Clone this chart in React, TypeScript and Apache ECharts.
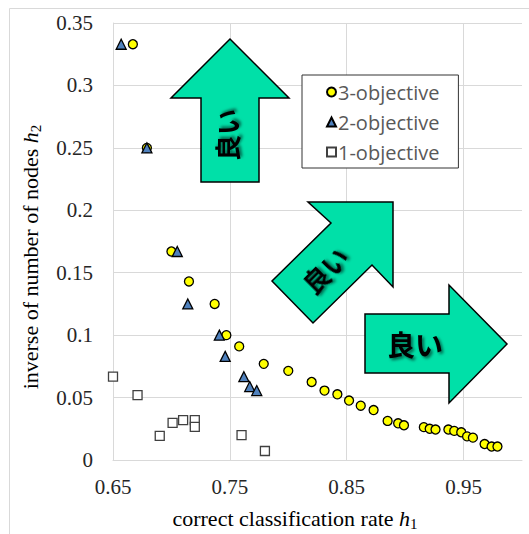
import React, { useEffect, useRef } from "react";
import * as echarts from "echarts";

// 3-objective (yellow circles)
const rate3 = [0.667, 0.679, 0.700, 0.715, 0.737, 0.747, 0.758, 0.779, 0.800, 0.820, 0.831, 0.842, 0.852, 0.862, 0.873, 0.885, 0.894, 0.899, 0.916, 0.921, 0.926, 0.937, 0.942, 0.948, 0.953, 0.958, 0.968, 0.974, 0.979];
const inv3 = [0.333, 0.250, 0.167, 0.143, 0.125, 0.100, 0.091, 0.077, 0.0714, 0.0625, 0.0556, 0.0526, 0.0476, 0.0435, 0.040, 0.0313, 0.0294, 0.0278, 0.0263, 0.025, 0.0244, 0.0244, 0.0233, 0.0222, 0.0189, 0.0179, 0.0128, 0.0108, 0.0108];

// 2-objective (blue triangles)
const rate2 = [0.657, 0.679, 0.705, 0.714, 0.741, 0.746, 0.762, 0.767, 0.773];
const inv2 = [0.333, 0.250, 0.167, 0.125, 0.100, 0.083, 0.0667, 0.0588, 0.0556];

// 1-objective (white squares)
const rate1 = [0.650, 0.671, 0.690, 0.701, 0.710, 0.720, 0.720, 0.760, 0.780];
const inv1 = [0.0667, 0.052, 0.0193, 0.0297, 0.032, 0.032, 0.0265, 0.020, 0.0072];

const seriesNames = ["3-objective", "2-objective", "1-objective"];
const xTickLabels = ["0.65", "0.75", "0.85", "0.95"];
const yTickLabels = ["0", "0.05", "0.1", "0.15", "0.2", "0.25", "0.3", "0.35"];
const arrowLabel = "良い";

const GRID = "#d9d9d9";
const ARROW = "#00E0A8";
const SERIF = "Liberation Serif";
const JP = "Noto Sans CJK JP";

const textShadow = {
  textShadowColor: "rgba(0,0,0,0.55)",
  textShadowBlur: 3,
  textShadowOffsetX: 2,
  textShadowOffsetY: 2,
};

export default function App() {
  const ref = useRef<HTMLDivElement>(null);

  useEffect(() => {
    if (!ref.current) return;
    const chart = echarts.init(ref.current, null, { renderer: "svg" });

    const pairs = (xs: number[], ys: number[]) => xs.map((x, i) => [x, ys[i]]);

    const option: any = {
      animation: false,
      backgroundColor: "#ffffff",
      grid: { left: 113, top: 23, right: 7, bottom: 74, containLabel: false },
      xAxis: {
        type: "value",
        min: 0.65,
        max: 1.0,
        interval: 0.05,
        axisLine: { show: true, onZero: false, lineStyle: { color: GRID, width: 1 } },
        axisTick: { show: false },
        axisLabel: {
          margin: 16,
          fontFamily: SERIF,
          fontSize: 21,
          color: "#262626",
          showMaxLabel: false,
          formatter: (v: number) => {
            const k = Math.round((v - 0.65) / 0.05);
            return k % 2 === 0 && k / 2 < xTickLabels.length ? xTickLabels[k / 2] : "";
          },
        },
        splitLine: { show: true, lineStyle: { color: [GRID, "rgba(0,0,0,0)"], width: 1 } },
      },
      yAxis: {
        type: "value",
        min: 0,
        max: 0.35,
        interval: 0.05,
        axisLine: { show: true, onZero: false, lineStyle: { color: GRID, width: 1 } },
        axisTick: { show: false },
        axisLabel: {
          margin: 20,
          fontFamily: SERIF,
          fontSize: 21,
          color: "#262626",
          formatter: (v: number) => yTickLabels[Math.round(v / 0.05)] ?? "",
        },
        splitLine: { show: true, lineStyle: { color: GRID, width: 1 } },
      },
      legend: {
        orient: "vertical",
        left: 302,
        top: 75,
        padding: [7, 19, 6, 24],
        itemWidth: 9,
        itemHeight: 9,
        itemGap: 10,
        backgroundColor: "#ffffff",
        borderColor: "#333",
        borderWidth: 1,
        textStyle: { fontFamily: "Open Sans", fontSize: 20, color: "#595959", padding: [0, 0, 0, -3] },
        data: seriesNames,
      },
      series: [
        {
          name: seriesNames[0],
          type: "scatter",
          clip: false,
          symbol: "circle",
          symbolSize: 9,
          itemStyle: { color: "#FFFF00", borderColor: "#000", borderWidth: 1.3, opacity: 1 },
          data: pairs(rate3, inv3),
          z: 3,
        },
        {
          name: seriesNames[1],
          type: "scatter",
          clip: false,
          symbol: "triangle",
          symbolSize: 10,
          itemStyle: { color: "#4F81BD", borderColor: "#000", borderWidth: 1.3, opacity: 1 },
          data: pairs(rate2, inv2),
          z: 4,
        },
        {
          name: seriesNames[2],
          type: "scatter",
          clip: false,
          symbol: "rect",
          symbolSize: 9,
          itemStyle: { color: "#ffffff", borderColor: "#404040", borderWidth: 1.3, opacity: 1 },
          data: pairs(rate1, inv1),
          z: 3,
        },
      ],
      graphic: [
        {
          type: "rect",
          shape: { x: 9.5, y: 8.5, width: 540, height: 540 },
          style: { fill: "none", stroke: GRID, lineWidth: 1 },
          z: 1,
          silent: true,
        },
        {
          type: "polygon",
          shape: { points: [[230, 39], [289, 98], [259, 98], [259, 182], [201, 182], [201, 98], [171, 98]] },
          style: { fill: ARROW, stroke: "#000", lineWidth: 1.5 },
          z: 10,
        },
        {
          type: "polygon",
          shape: { points: [[393, 202], [393, 287], [372, 265], [313, 323], [272, 281], [331, 223], [308, 202]] },
          style: { fill: ARROW, stroke: "#000", lineWidth: 1.5 },
          z: 10,
        },
        {
          type: "polygon",
          shape: { points: [[507, 344], [449, 403], [449, 373], [365, 373], [365, 314], [449, 314], [449, 285]] },
          style: { fill: ARROW, stroke: "#000", lineWidth: 1.5 },
          z: 10,
        },
        {
          type: "text",
          x: 226,
          y: 135,
          rotation: Math.PI / 2,
          z: 11,
          style: { text: arrowLabel, fontFamily: JP, fontWeight: "bold", fontSize: 26, fill: "#000", align: "center", verticalAlign: "middle", ...textShadow },
        },
        {
          type: "text",
          x: 325,
          y: 270,
          rotation: Math.PI / 4,
          z: 11,
          style: { text: arrowLabel, fontFamily: JP, fontWeight: "bold", fontSize: 26, fill: "#000", align: "center", verticalAlign: "middle", ...textShadow },
        },
        {
          type: "text",
          x: 415,
          y: 344,
          z: 11,
          style: { text: arrowLabel, fontFamily: JP, fontWeight: "bold", fontSize: 28, fill: "#000", align: "center", verticalAlign: "middle", ...textShadow },
        },
        {
          type: "text",
          x: 295,
          y: 518,
          z: 11,
          style: {
            text: "{a|correct classification rate }{i|h}{s|1}",
            align: "center",
            verticalAlign: "middle",
            rich: {
              a: { fontFamily: SERIF, fontSize: 22, lineHeight: 26, color: "#262626" },
              i: { fontFamily: SERIF, fontSize: 22, fontStyle: "italic", lineHeight: 26, color: "#262626" },
              s: { fontFamily: SERIF, fontSize: 15, lineHeight: 15, verticalAlign: "bottom", color: "#262626" },
            },
          },
        },
        {
          type: "text",
          x: 30,
          y: 257,
          rotation: Math.PI / 2,
          z: 11,
          style: {
            text: "{a|inverse of number of nodes }{i|h}{s|2}",
            align: "center",
            verticalAlign: "middle",
            rich: {
              a: { fontFamily: SERIF, fontSize: 22, lineHeight: 26, color: "#262626" },
              i: { fontFamily: SERIF, fontSize: 22, fontStyle: "italic", lineHeight: 26, color: "#262626" },
              s: { fontFamily: SERIF, fontSize: 15, lineHeight: 15, verticalAlign: "bottom", color: "#262626" },
            },
          },
        },
      ],
    };

    chart.setOption(option);
    return () => chart.dispose();
  }, []);

  return (
    <div
      ref={ref}
      style={{ position: "absolute", left: 0, top: 0, width: 529, height: 534 }}
    />
  );
}
